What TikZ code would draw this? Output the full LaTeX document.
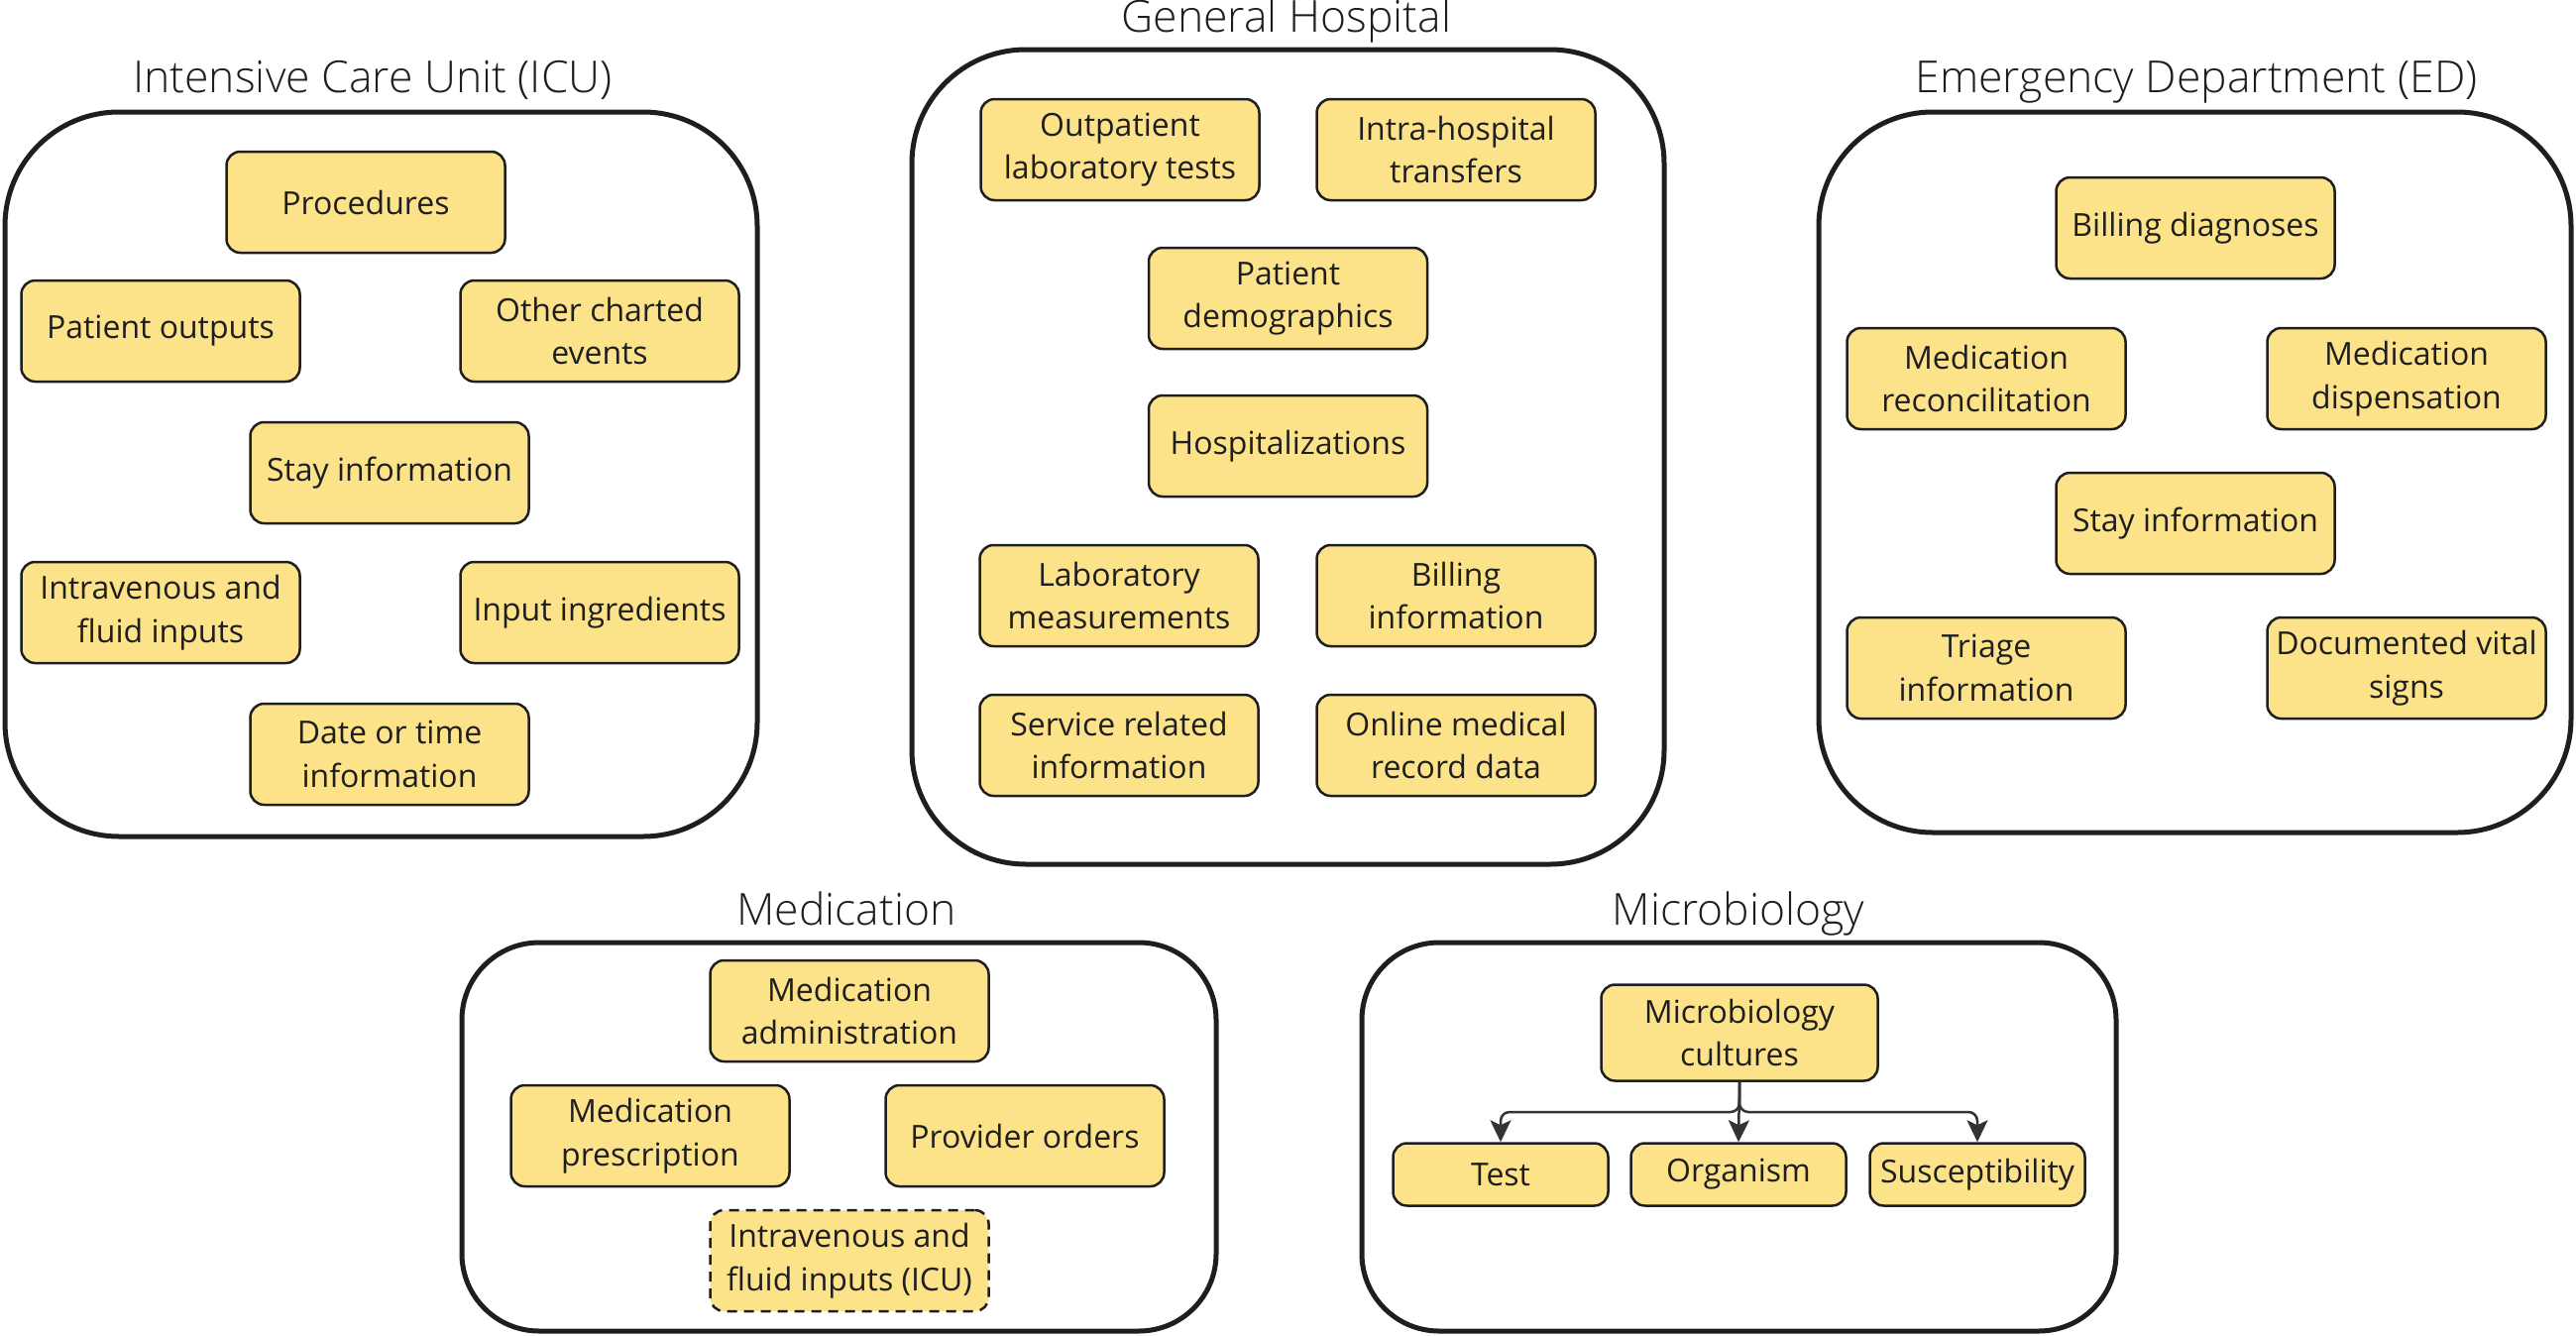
\documentclass[tikz,border=0pt]{standalone}
\usepackage{fontspec}
\setmainfont{Open Sans}
\newfontfamily\titlefont{Open Sans Light}
\usetikzlibrary{arrows.meta}
\definecolor{boxfill}{HTML}{FCE38A}
\definecolor{ink}{HTML}{1E1E1E}
\definecolor{arrowgray}{HTML}{333333}
\begin{document}
\begin{tikzpicture}[x=1pt,y=-1pt,
  item/.style={draw=ink, fill=boxfill, line width=2.5pt, rounded corners=14pt,
    minimum width=281pt, minimum height=102pt, inner sep=0pt, align=center,
    font=\fontsize{32}{43.5}\selectfont, text=ink},
  small/.style={item, minimum width=217pt, minimum height=63pt},
  dashitem/.style={item, dash pattern=on 10pt off 7pt},
  bigbox/.style={draw=ink, line width=5pt, rounded corners=115pt, inner sep=0pt},
  medbox/.style={draw=ink, line width=5pt, rounded corners=78pt, inner sep=0pt},
  ttl/.style={anchor=base, inner sep=0pt, font=\titlefont\fontsize{44.5}{52}\selectfont, text=ink},
  arr/.style={draw=arrowgray, line width=2.5pt, rounded corners=9pt,
    -{Stealth[length=22pt,width=21pt,inset=5pt]}}
]
\useasboundingbox (0,0) rectangle (2599,1347);

% ---------- ICU ----------
\node[bigbox, minimum width=759pt, minimum height=731pt] (icu) at (384.5,478.5) {};
\node[ttl] (icut) at (376,93) {Intensive Care Unit (ICU)};
\node[item] (proc) at (369,204) {Procedures};
\node[item] (pout) at (162,334) {Patient outputs};
\node[item] (oce) at (605,334) {Other charted\\events};
\node[item] (stay) at (393,477) {Stay information};
\node[item] (ivf) at (162,618) {Intravenous and\\fluid inputs};
\node[item] (ing) at (605,618) {Input ingredients};
\node[item] (dti) at (393,761) {Date or time\\information};

% ---------- General Hospital ----------
\node[bigbox, minimum width=759pt, minimum height=822pt] (gh) at (1299.5,461) {};
\node[ttl] (ght) at (1298,32) {General Hospital};
\node[item] (olt) at (1130,151) {Outpatient\\laboratory tests};
\node[item] (iht) at (1469,151) {Intra-hospital\\transfers};
\node[item] (pdem) at (1299.5,301) {Patient\\demographics};
\node[item] (hosp) at (1299.5,450) {Hospitalizations};
\node[item] (labm) at (1129,601) {Laboratory\\measurements};
\node[item] (binf) at (1469,601) {Billing\\information};
\node[item] (sri) at (1129,752) {Service related\\information};
\node[item] (omr) at (1469,752) {Online medical\\record data};

% ---------- ED ----------
\node[bigbox, minimum width=759pt, minimum height=727pt] (ed) at (2214.5,476.5) {};
\node[ttl] (edt) at (2216,93) {Emergency Department (ED)};
\node[item] (bdx) at (2215,230) {Billing diagnoses};
\node[item] (mrec) at (2004,382) {Medication\\reconcilitation};
\node[item] (mdis) at (2428,382) {Medication\\dispensation};
\node[item] (estay) at (2215,528) {Stay information};
\node[item] (tri) at (2004,674) {Triage\\information};
\node[item] (dvs) at (2428,674) {Documented vital\\signs};

% ---------- Medication ----------
\node[medbox, minimum width=761pt, minimum height=392pt] (med) at (846.5,1147) {};
\node[ttl] (medt) at (854,933) {Medication};
\node[item] (madm) at (857,1020) {Medication\\administration};
\node[item] (mpre) at (656,1146) {Medication\\prescription};
\node[item] (pord) at (1034,1146) {Provider orders};
\node[dashitem] (ivicu) at (857,1272) {Intravenous and\\fluid inputs (ICU)};

% ---------- Microbiology ----------
\node[medbox, minimum width=761pt, minimum height=392pt] (mic) at (1754.5,1147) {};
\node[ttl] (mict) at (1754,933) {Microbiology};
\node[item, minimum width=279pt, minimum height=97pt] (mc) at (1755,1042) {Microbiology\\cultures};
\node[small] (test) at (1514,1185) {Test};
\node[small] (org) at (1754,1185) {Organism};
\node[small] (sus) at (1995,1185) {Susceptibility};
\coordinate (j) at (1755,1122);
\draw[arr] (mc.south) |- (j -| test.north) -- (test.north);
\draw[arr] (mc.south) -- (org.north);
\draw[arr] (mc.south) |- (j -| sus.north) -- (sus.north);
\end{tikzpicture}
\end{document}
